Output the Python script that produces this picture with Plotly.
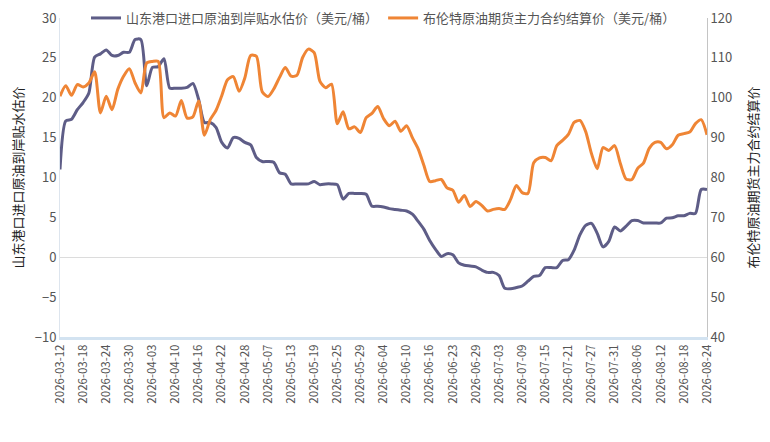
import pandas as pd
import plotly.graph_objects as go

# 交易日（剔除周末及节假日）
holidays = ["2026-04-06", "2026-05-01", "2026-05-04", "2026-05-05", "2026-06-19"]
dates = [d.strftime("%Y-%m-%d") for d in pd.bdate_range("2026-03-12", "2026-08-24")
         if d.strftime("%Y-%m-%d") not in holidays]

# 山东港口进口原油到岸贴水估价（美元/桶）
shandong = [11.0, 17.1, 17.3, 18.5, 19.4, 20.6, 25.1, 25.5, 26.0, 25.3,
            25.3, 25.7, 25.7, 27.3, 27.3, 21.5, 23.8, 23.9, 24.9, 21.2,
            21.2, 21.2, 21.3, 21.8, 19.8, 16.9, 16.9, 16.3, 14.4, 13.7,
            15.0, 14.9, 14.4, 14.1, 12.5, 12.0, 12.0, 11.9, 10.6, 10.4,
            9.2, 9.2, 9.2, 9.2, 9.5, 9.1, 9.2, 9.2, 9.1, 7.3,
            8.0, 8.0, 8.0, 7.9, 6.4, 6.4, 6.3, 6.1, 6.0, 5.9,
            5.8, 5.4, 4.5, 3.5, 2.1, 1.0, 0.1, 0.45, 0.3, -0.7,
            -1.0, -1.1, -1.2, -1.6, -1.9, -1.9, -2.3, -3.9, -3.95, -3.8,
            -3.6, -3.0, -2.4, -2.3, -1.3, -1.3, -1.3, -0.4, -0.3, 0.9,
            2.8, 4.0, 4.25, 3.0, 1.3, 2.0, 3.8, 3.3, 3.9, 4.6,
            4.6, 4.3, 4.3, 4.3, 4.3, 4.9, 4.95, 5.2, 5.2, 5.5,
            5.5, 8.5, 8.5]

# 布伦特原油期货主力合约结算价（美元/桶）
brent = [100.4, 103.0, 100.6, 103.3, 102.7, 103.7, 106.5, 96.2, 100.4, 97.0,
         102.1, 105.4, 107.3, 103.7, 101.2, 108.7, 109.1, 109.1, 95.0, 96.2,
         95.4, 99.3, 94.9, 95.2, 99.2, 90.6, 94.5, 96.8, 100.5, 104.5,
         105.3, 101.6, 105.0, 110.6, 110.4, 101.5, 100.3, 102.2, 105.1, 107.6,
         105.4, 105.6, 110.1, 112.2, 111.3, 104.1, 102.5, 103.4, 93.5, 96.5,
         92.2, 92.7, 91.3, 95.0, 96.1, 97.8, 94.8, 93.0, 94.1, 91.6,
         93.0, 90.0, 87.2, 83.0, 79.0, 79.2, 79.5, 77.4, 76.8, 73.8,
         75.5, 72.7, 74.0, 73.0, 71.6, 72.0, 72.2, 72.0, 74.5, 78.0,
         76.2, 76.0, 83.7, 84.9, 85.0, 84.2, 88.0, 89.3, 90.8, 93.8,
         94.3, 91.5, 86.0, 82.2, 87.5, 86.8, 88.0, 83.5, 79.6, 79.5,
         82.3, 83.6, 87.3, 88.8, 88.8, 87.2, 88.2, 90.6, 91.0, 91.4,
         93.5, 94.5, 90.7]

tick_dates = dates[::4]

font_family = "Noto Sans CJK SC, Noto Sans, sans-serif"

fig = go.Figure()
fig.add_trace(go.Scatter(
    x=dates, y=shandong, mode="lines",
    name="山东港口进口原油到岸贴水估价（美元/桶）",
    line=dict(color="#5e5d87", width=3, shape="spline", smoothing=0.7),
))
fig.add_trace(go.Scatter(
    x=dates, y=brent, mode="lines", yaxis="y2",
    name="布伦特原油期货主力合约结算价（美元/桶）",
    line=dict(color="#ef8535", width=3, shape="spline", smoothing=0.7),
))

# 页面自带 8px 边距，图尺寸相应缩小
fig.update_layout(
    width=762, height=434,
    margin=dict(l=52, r=63, t=10, b=105, autoexpand=False),
    paper_bgcolor="white", plot_bgcolor="white",
    font=dict(family=font_family, size=13, color="#555555"),
    showlegend=True,
    legend=dict(orientation="h", x=0.5, xanchor="center",
                yref="container", y=1 - 10 / 434, yanchor="middle",
                font=dict(size=13, color="#555555"), itemwidth=30,
                bgcolor="rgba(0,0,0,0)"),
    xaxis=dict(
        type="category", categoryorder="array", categoryarray=dates,
        range=[0, len(dates) - 1],
        tickmode="array", tickvals=tick_dates, ticktext=tick_dates,
        tickangle=-90, tickfont=dict(size=11.5, color="#555555"),
        showgrid=False, zeroline=False, automargin=False,
        showline=True, linecolor="#d3e3f1", linewidth=3,
        ticks="",
    ),
    yaxis=dict(
        range=[-10, 30], dtick=5, tick0=-10, automargin=False,
        ticklabeloverflow="allow",
        title=dict(text="山东港口进口原油到岸贴水估价", font=dict(size=13, color="#222222"),
                   standoff=12),
        showgrid=False,
        zeroline=True, zerolinecolor="#dcdcdc", zerolinewidth=1,
        showline=True, linecolor="#dde5ee", linewidth=1,
        tickfont=dict(size=13, color="#555555"),
    ),
    yaxis2=dict(
        range=[40, 120], dtick=10, tick0=40, automargin=False,
        ticklabeloverflow="allow",
        overlaying="y", side="right",
        title=dict(text="布伦特原油期货主力合约结算价", font=dict(size=13, color="#222222"),
                   standoff=17),
        showgrid=False, zeroline=False,
        showline=True, linecolor="#c4c4c4", linewidth=1,
        tickfont=dict(size=13, color="#555555"),
    ),
)

fig.write_html("out.html")
